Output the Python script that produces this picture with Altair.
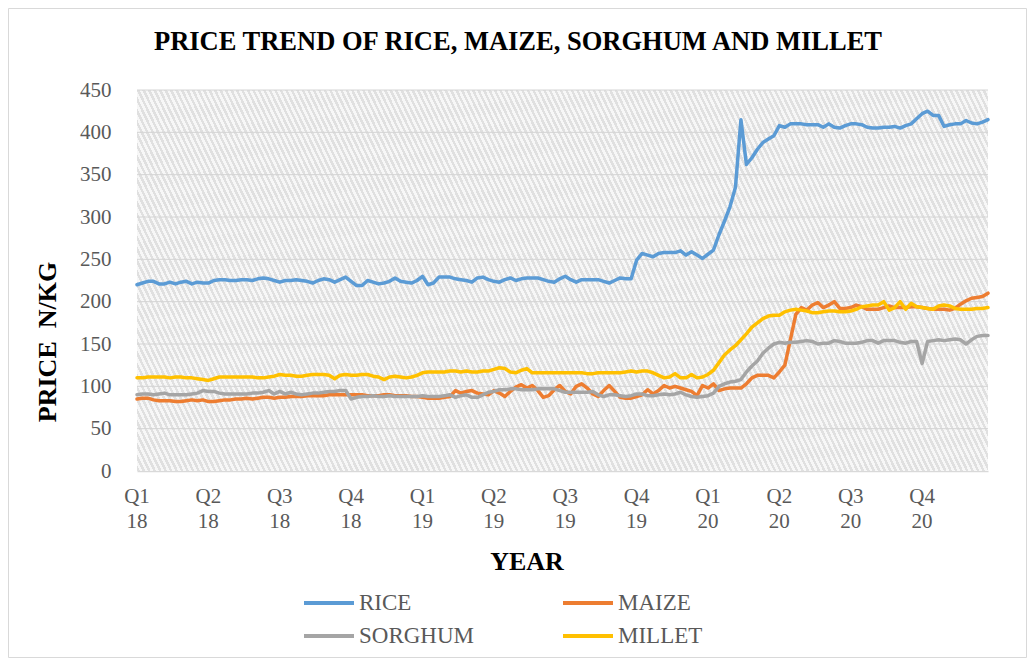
import altair as alt
import pandas as pd

TITLE = "PRICE TREND OF RICE, MAIZE, SORGHUM AND MILLET"
Y_TITLE = "PRICE\u00a0\u00a0N/KG"
X_TITLE = "YEAR"

SERIES = ["RICE", "MAIZE", "SORGHUM", "MILLET"]
COLORS = ["#5B9BD5", "#ED7D31", "#A5A5A5", "#FFC000"]
# legend is laid out column by column: RICE/SORGHUM left, MAIZE/MILLET right
LEGEND_ORDER = ["RICE", "SORGHUM", "MAIZE", "MILLET"]

QUARTER_LABELS = ["Q1\n18", "Q2\n18", "Q3\n18", "Q4\n18",
                  "Q1\n19", "Q2\n19", "Q3\n19", "Q4\n19",
                  "Q1\n20", "Q2\n20", "Q3\n20", "Q4\n20"]
QUARTER_WEEK = [0, 13, 26, 39, 52, 65, 78, 91, 104, 117, 130, 143]
Y_TICKS = [0, 50, 100, 150, 200, 250, 300, 350, 400, 450]

RICE = [220, 222, 224, 224, 221, 221, 223, 221, 223, 224, 221, 223, 222,
        222, 225, 226, 226, 225, 225, 226, 226, 225, 227, 228, 227, 225,
        223, 225, 225, 226, 225, 224, 222, 225, 227, 226, 223, 226, 229,
        224, 219, 219, 225, 223, 221, 222, 224, 228, 224, 223, 222, 225,
        230, 220, 222, 229, 229, 229, 227, 226, 225, 223, 228, 229, 226,
        224, 223, 226, 228, 225, 227, 228, 228, 228, 226, 224, 223, 227,
        230, 226, 223, 226, 226, 226, 226, 224, 222, 225, 228, 227, 227,
        249, 257, 255, 253, 257, 258, 258, 258, 260, 255, 259, 255, 251,
        256, 261, 279, 295, 312, 335, 415, 362, 370, 380, 388, 392, 396,
        408, 406, 410, 410, 410, 409, 409, 409, 406, 410, 406, 405, 408,
        410, 410, 409, 406, 405, 405, 406, 406, 407, 405, 408, 410, 416,
        422, 425, 420, 420, 407, 409, 410, 410, 414, 411, 410, 412, 415]

MAIZE = [85, 86, 86, 84, 83, 83, 83, 82, 82, 83, 84, 83, 84,
         82, 82, 83, 84, 84, 85, 85, 86, 85, 86, 87, 87, 86,
         87, 87, 88, 88, 88, 89, 89, 89, 89, 90, 90, 90, 90,
         90, 90, 90, 89, 89, 89, 90, 90, 89, 89, 89, 88, 88,
         87, 86, 86, 86, 87, 88, 95, 92, 94, 95, 92, 91, 90,
         95, 92, 88, 94, 99, 102, 98, 101, 95, 87, 89, 96, 101,
         94, 91, 100, 103, 98, 91, 88, 95, 101, 94, 87, 86, 86,
         88, 90, 96, 91, 95, 101, 98, 100, 98, 96, 94, 89, 101,
         98, 103, 95, 97, 98, 98, 98, 103, 110, 113, 113, 113, 110,
         117, 125, 155, 185, 193, 190, 196, 199, 193, 196, 200, 192, 192,
         193, 196, 194, 191, 191, 191, 193, 195, 193, 193, 193, 194, 194,
         193, 192, 191, 191, 191, 190, 192, 197, 201, 204, 205, 206, 210]

SORGHUM = [90, 91, 91, 90, 91, 92, 90, 90, 90, 90, 91, 92, 95,
           94, 94, 92, 91, 91, 91, 91, 91, 92, 92, 93, 95, 91,
           94, 91, 93, 91, 90, 91, 92, 92, 93, 94, 94, 95, 95,
           85, 87, 88, 88, 89, 88, 88, 89, 88, 88, 88, 88, 88,
           89, 88, 88, 88, 89, 90, 87, 89, 90, 87, 87, 90, 93,
           94, 96, 96, 97, 97, 96, 96, 96, 97, 97, 97, 97, 95,
           93, 93, 93, 93, 93, 94, 90, 88, 90, 90, 89, 88, 89,
           91, 91, 89, 89, 90, 91, 90, 91, 93, 90, 88, 87, 88,
           89, 92, 100, 103, 105, 106, 108, 117, 124, 130, 139, 145, 150,
           152, 151, 152, 152, 153, 154, 153, 150, 151, 151, 154, 153, 151,
           151, 151, 152, 154, 154, 151, 154, 154, 154, 152, 151, 153, 153,
           127, 153, 154, 155, 154, 155, 156, 155, 150, 155, 159, 160, 160]

MILLET = [110, 110, 111, 111, 111, 111, 110, 111, 111, 110, 110, 109, 108,
          107, 109, 111, 111, 111, 111, 111, 111, 111, 110, 110, 111, 112,
          114, 113, 113, 112, 112, 113, 114, 114, 114, 113, 109, 113, 114,
          113, 113, 114, 114, 112, 111, 108, 111, 112, 111, 110, 111, 113,
          116, 117, 117, 117, 117, 118, 118, 117, 118, 117, 117, 118, 118,
          120, 122, 121, 117, 116, 119, 121, 116, 116, 116, 116, 116, 116,
          116, 116, 116, 116, 115, 115, 116, 116, 116, 116, 116, 117, 118,
          117, 118, 118, 116, 113, 110, 111, 115, 110, 110, 114, 110, 111,
          114, 119, 128, 137, 143, 148, 155, 162, 170, 175, 180, 183, 184,
          184, 188, 190, 191, 190, 189, 187, 187, 188, 189, 189, 188, 188,
          189, 191, 194, 195, 196, 196, 200, 190, 193, 200, 191, 198, 194,
          193, 192, 191, 195, 196, 195, 192, 191, 191, 191, 192, 192, 193]

rows = []
for name, vals in zip(SERIES, [RICE, MAIZE, SORGHUM, MILLET]):
    for w, v in enumerate(vals):
        rows.append({"week": w, "series": name, "price": v})
df = pd.DataFrame(rows)

FONT = "Liberation Serif"
N_WEEKS = len(RICE)
color_of = dict(zip(SERIES, COLORS))

# diagonal hatch for the plot background (decoration only)
N_STRIPES = 188
stops = []
for k in range(N_STRIPES):
    a = k / N_STRIPES
    b = (k + 0.5) / N_STRIPES
    c = (k + 1) / N_STRIPES
    stops += [alt.GradientStop(offset=a, color="#e0e0e0"),
              alt.GradientStop(offset=b, color="#e0e0e0"),
              alt.GradientStop(offset=b, color="#f7f7f7"),
              alt.GradientStop(offset=c, color="#f7f7f7")]
hatch = alt.LinearGradient(gradient="linear", stops=stops,
                           x1=0, y1=1, x2=1.16, y2=0.7527)

xscale = alt.Scale(domain=[0, N_WEEKS - 1], nice=False, zero=False, padding=0)
yscale = alt.Scale(domain=[0, 450], nice=False)

tdf = pd.DataFrame({"title": [TITLE], "ytitle": [Y_TITLE], "xtitle": [X_TITLE]})

background = alt.Chart(tdf).mark_rect(fill=hatch, strokeWidth=0).encode(
    x=alt.value(0), x2=alt.value(851), y=alt.value(0), y2=alt.value(381))

gdf = pd.DataFrame({"tick": Y_TICKS[1:]})
grid = alt.Chart(gdf).mark_rule(color="#d4d4d4", strokeWidth=1).encode(
    y=alt.Y("tick:Q", scale=yscale))

lines = alt.Chart(df).mark_line(strokeWidth=3.5, strokeCap="round", strokeJoin="round").encode(
    x=alt.X("week:Q", scale=xscale,
            axis=alt.Axis(values=QUARTER_WEEK, labels=False, ticks=False, grid=False,
                          title=None, domainColor="#d9d9d9", domainWidth=1.5)),
    y=alt.Y("price:Q", scale=yscale,
            axis=alt.Axis(values=Y_TICKS, title=None, labelFont=FONT, labelFontSize=21,
                          labelColor="#595959", labelPadding=26, ticks=False, domain=False,
                          grid=False)),
    color=alt.Color("series:N",
                    scale=alt.Scale(domain=LEGEND_ORDER,
                                    range=[color_of[s] for s in LEGEND_ORDER]),
                    legend=alt.Legend(orient="none", legendX=180, legendY=501, columns=2,
                                      title=None, symbolType="M-2.5,0H2.5", symbolSize=400,
                                      symbolStrokeWidth=4, labelFont=FONT, labelFontSize=23,
                                      labelColor="#595959", labelOffset=18,
                                      columnPadding=80, rowPadding=9, labelLimit=300)),
    order=alt.Order("week:Q"),
)

qdf = pd.DataFrame({"week": QUARTER_WEEK, "label": QUARTER_LABELS})
qlabels = alt.Chart(qdf).mark_text(lineBreak="\n", font=FONT, fontSize=21, color="#595959",
                                   baseline="middle", align="center", lineHeight=25).encode(
    x=alt.X("week:Q", scale=xscale),
    y=alt.value(407),
    text="label:N",
)

title = alt.Chart(tdf).mark_text(font=FONT, fontSize=26.5, fontWeight="bold", color="#000000",
                                 align="center", baseline="middle").encode(
    x=alt.value(381), y=alt.value(-48), text="title:N")
ytitle = alt.Chart(tdf).mark_text(font=FONT, fontSize=26, fontWeight="bold", color="#000000",
                                  align="center", baseline="middle", angle=270).encode(
    x=alt.value(-89), y=alt.value(252), text="ytitle:N")
xtitle = alt.Chart(tdf).mark_text(font=FONT, fontSize=26, fontWeight="bold", color="#000000",
                                  align="center", baseline="middle").encode(
    x=alt.value(390), y=alt.value(472), text="xtitle:N")
frame = alt.Chart(tdf).mark_rect(filled=False, stroke="#d9d9d9", strokeWidth=1).encode(
    x=alt.value(-128.5), x2=alt.value(889.5), y=alt.value(-81.5), y2=alt.value(567.5))

chart = alt.layer(frame, background, grid, lines, qlabels, title, ytitle, xtitle).properties(
    width=851, height=381,
    autosize=alt.AutoSizeParams(type="none"),
    padding={"left": 129, "top": 82, "right": 39, "bottom": 187},
    background="white",
).configure_view(stroke=None)

chart.save("out.html", embed_options={"renderer": "svg", "actions": False})
